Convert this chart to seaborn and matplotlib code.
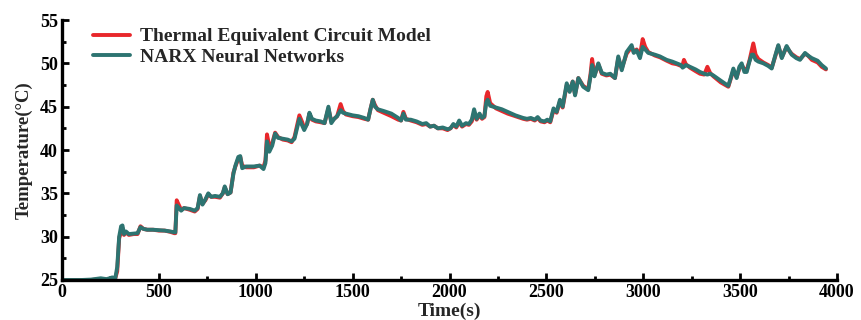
import matplotlib
matplotlib.use("Agg")
import matplotlib.pyplot as plt
from matplotlib.ticker import MultipleLocator
import seaborn as sns
import pandas as pd

# Sample times (s)
time_s = [0, 100, 150, 200, 230, 260, 275, 285, 295, 305, 312, 320, 330, 345, 370, 390,
          405, 420, 440, 470, 500, 530, 560, 580, 585, 592, 600, 615, 630, 660, 685, 700,
          712, 725, 740, 755, 770, 790, 815, 830, 840, 855, 870, 885, 895, 910, 920, 930,
          950, 990, 1020, 1040, 1050, 1058, 1070, 1085, 1100, 1115, 1140, 1165, 1185, 1200,
          1225, 1240, 1250, 1265, 1277, 1290, 1310, 1335, 1355, 1375, 1390, 1405, 1420, 1438,
          1450, 1465, 1500, 1530, 1560, 1580, 1593, 1604, 1615, 1630, 1660, 1700, 1735, 1750,
          1762, 1775, 1800, 1830, 1860, 1880, 1900, 1920, 1940, 1965, 1990, 2005, 2020, 2035,
          2050, 2065, 2085, 2100, 2115, 2127, 2140, 2155, 2168, 2180, 2190, 2197, 2210, 2225,
          2240, 2270, 2300, 2340, 2380, 2400, 2420, 2440, 2455, 2470, 2490, 2505, 2520, 2537,
          2553, 2570, 2584, 2605, 2620, 2636, 2648, 2665, 2690, 2716, 2728, 2736, 2748, 2768,
          2786, 2810, 2830, 2854, 2871, 2889, 2914, 2940, 2951, 2966, 2983, 2997, 3010, 3026,
          3060, 3086, 3121, 3150, 3173, 3195, 3203, 3210, 3220, 3241, 3270, 3293, 3315, 3331,
          3345, 3362, 3400, 3439, 3450, 3465, 3482, 3496, 3508, 3522, 3534, 3548, 3560, 3568,
          3580, 3594, 3620, 3645, 3663, 3680, 3697, 3715, 3740, 3755, 3766, 3790, 3809, 3835,
          3850, 3870, 3900, 3921, 3943]

# NARX neural network prediction (°C)
narx_temp = [25.0, 25.0, 25.05, 25.2, 25.1, 25.3, 25.2, 26.5, 30.0, 31.2, 31.3, 30.3, 30.6, 30.3, 30.35, 30.4,
             31.1, 30.9, 30.8, 30.8, 30.75, 30.7, 30.6, 30.5, 30.5, 33.6, 33.4, 33.0, 33.3, 33.2, 33.0, 33.3,
             34.8, 33.7, 34.3, 35.0, 34.6, 34.7, 34.6, 35.0, 35.8, 34.9, 35.1, 37.3, 38.2, 39.2, 39.3, 37.9,
             38.1, 38.1, 38.2, 37.8, 38.5, 41.0, 39.8, 40.5, 41.9, 41.4, 41.3, 41.2, 41.0, 41.3,
             43.6, 42.8, 42.3, 43.0, 44.3, 43.6, 43.4, 43.3, 43.1, 45.0, 43.1, 43.6, 43.9, 44.6,
             44.3, 44.2, 44.0, 43.9, 43.7, 43.5, 44.8, 45.8, 45.0, 44.7, 44.5, 44.2, 43.7, 43.4,
             44.2, 43.5, 43.5, 43.3, 43.0, 43.1, 42.7, 42.8, 42.5, 42.6, 42.4, 42.5, 43.0, 42.7,
             43.4, 42.8, 43.1, 43.0, 43.5, 44.7, 43.6, 44.2, 43.7, 43.9, 45.5, 45.8, 45.1, 45.0,
             44.9, 44.7, 44.4, 44.0, 43.7, 43.6, 43.7, 43.5, 43.8, 43.4, 43.3, 43.5, 43.3, 44.8,
             44.4, 45.8, 45.0, 47.7, 46.7, 47.9, 46.3, 48.3, 47.3, 46.9, 48.5, 49.8, 48.5, 50.0,
             48.9, 48.7, 48.8, 48.3, 50.8, 49.2, 51.3, 52.1, 51.2, 51.5, 50.6, 51.9, 51.6, 51.2,
             51.0, 50.8, 50.4, 50.2, 50.0, 49.8, 49.5, 49.6, 49.8, 49.6, 49.3, 49.0, 48.8, 48.7,
             48.8, 48.6, 48.0, 47.4, 48.2, 49.4, 48.3, 49.6, 50.0, 49.0, 49.0, 50.2, 51.0, 51.0,
             50.4, 50.2, 50.0, 49.7, 49.4, 50.8, 52.1, 50.6, 52.0, 51.4, 51.0, 50.6, 50.4, 51.2,
             50.9, 50.6, 50.3, 49.8, 49.4]

# Thermal equivalent circuit model (°C)
tecm_temp = [25.0, 25.0, 25.0, 25.1, 25.05, 25.2, 25.2, 26.0, 29.8, 30.6, 31.0, 30.2, 30.5, 30.2, 30.3, 30.3,
             31.2, 30.9, 30.8, 30.8, 30.7, 30.7, 30.55, 30.4, 30.4, 34.2, 33.8, 33.1, 33.3, 33.1, 32.9, 33.2,
             34.7, 33.8, 34.2, 34.9, 34.6, 34.6, 34.5, 35.0, 35.7, 34.9, 35.1, 37.4, 38.1, 39.0, 39.2, 38.2,
             38.0, 38.0, 38.2, 38.0, 38.8, 41.8, 40.4, 40.8, 42.0, 41.5, 41.2, 41.1, 40.9, 41.5,
             44.0, 43.2, 42.5, 43.0, 44.2, 43.5, 43.3, 43.2, 43.1, 44.8, 43.3, 43.6, 43.9, 45.3,
             44.5, 44.1, 43.9, 43.8, 43.6, 43.5, 44.8, 45.8, 45.2, 44.6, 44.3, 43.9, 43.5, 43.4,
             44.4, 43.6, 43.4, 43.2, 42.9, 43.0, 42.7, 42.8, 42.5, 42.5, 42.3, 42.5, 42.9, 42.6,
             43.2, 42.7, 43.0, 42.9, 43.3, 44.3, 43.5, 44.0, 43.6, 43.8, 46.2, 46.7, 45.4, 45.1,
             44.8, 44.5, 44.2, 43.9, 43.6, 43.5, 43.6, 43.4, 43.7, 43.3, 43.2, 43.4, 43.2, 44.6,
             44.3, 45.6, 44.9, 47.5, 46.8, 47.9, 46.4, 48.3, 47.4, 47.0, 48.8, 50.5, 48.6, 49.9,
             48.8, 48.6, 48.7, 48.3, 50.6, 49.4, 51.1, 51.9, 51.3, 51.6, 50.9, 52.8, 51.9, 51.3,
             50.9, 50.7, 50.3, 50.0, 49.9, 49.7, 49.8, 50.4, 49.9, 49.5, 49.1, 48.8, 48.7, 49.6,
             48.9, 48.5, 47.8, 47.3, 48.1, 49.2, 48.4, 49.4, 49.8, 49.3, 49.2, 50.3, 51.5, 52.3,
             51.0, 50.5, 50.1, 49.8, 49.5, 50.7, 52.0, 50.7, 51.9, 51.4, 51.1, 50.7, 50.5, 51.1,
             50.9, 50.4, 50.1, 49.6, 49.3]

series_names = ["Thermal Equivalent Circuit Model", "NARX Neural Networks"]
series_colors = ["#e8272b", "#2d7471"]

df = pd.DataFrame({"Time": time_s, "TECM": tecm_temp, "NARX": narx_temp})

sns.set_style("ticks")
plt.rcParams["font.family"] = ["Liberation Serif", "DejaVu Serif"]
plt.rcParams["font.weight"] = "bold"
plt.rcParams["axes.labelweight"] = "bold"

fig = plt.figure(figsize=(8.61, 3.2), dpi=100)
ax = fig.add_axes([62 / 861, 40 / 320, 775 / 861, 260 / 320])

sns.lineplot(data=df, x="Time", y="TECM", ax=ax, color=series_colors[0],
             linewidth=2.8, label=series_names[0], sort=False, estimator=None)
sns.lineplot(data=df, x="Time", y="NARX", ax=ax, color=series_colors[1],
             linewidth=2.8, label=series_names[1], sort=False, estimator=None)

ax.set_xlim(0, 4000)
ax.set_ylim(25, 55)
ax.xaxis.set_major_locator(MultipleLocator(500))
ax.xaxis.set_minor_locator(MultipleLocator(250))
ax.yaxis.set_major_locator(MultipleLocator(5))
ax.yaxis.set_minor_locator(MultipleLocator(2.5))
ax.tick_params(which="both", direction="in", width=2.0, colors="black", labelsize=13, pad=3)
ax.tick_params(which="major", length=5)
ax.tick_params(which="minor", length=3)
for lbl in ax.get_xticklabels() + ax.get_yticklabels():
    lbl.set_fontweight("bold")

for side in ["top", "right"]:
    ax.spines[side].set_visible(False)
for side in ["left", "bottom"]:
    ax.spines[side].set_linewidth(2.4)
    ax.spines[side].set_color("black")

ax.set_xlabel("Time(s)", fontsize=14, fontweight="bold", labelpad=1)
ax.set_ylabel("Temperature(°C)", fontsize=13.5, fontweight="bold", labelpad=5)

leg = ax.legend(loc="upper left", frameon=False, fontsize=14, handlelength=1.9,
                handletextpad=0.5, labelspacing=0.15, borderaxespad=0.0,
                bbox_to_anchor=(0.03, 1.0))
for t in leg.get_texts():
    t.set_fontweight("bold")
for h in leg.get_lines():
    h.set_linewidth(2.8)

fig.savefig("out.png", dpi=100)
